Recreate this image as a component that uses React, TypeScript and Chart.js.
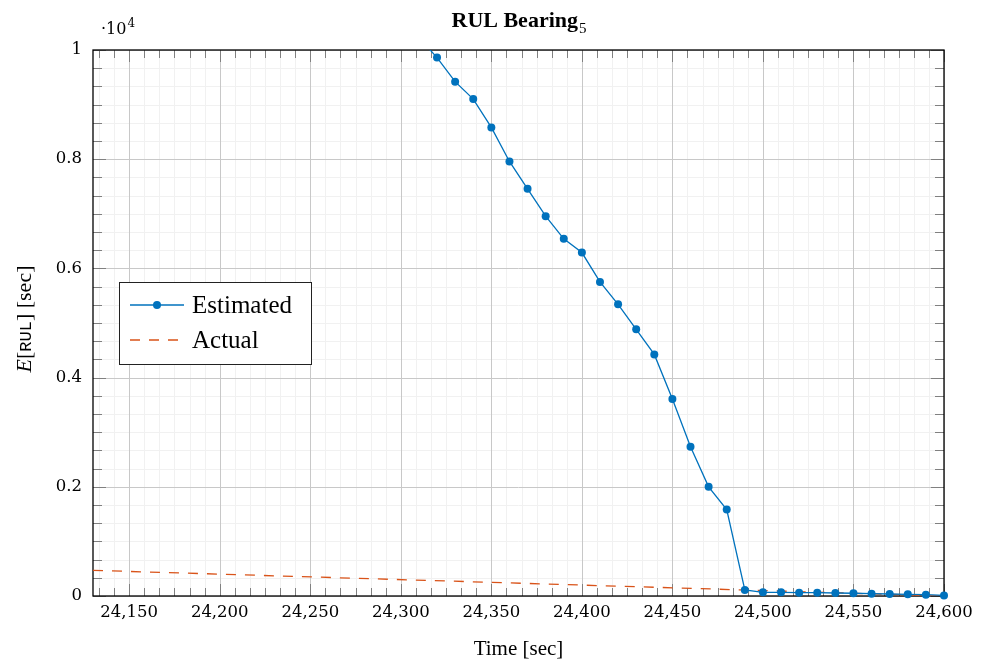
import React, { useEffect, useRef } from 'react';
import { Chart, registerables } from 'chart.js';

Chart.register(...registerables);

// ---- data ----
const estTime = [24310, 24320, 24330, 24340, 24350, 24360, 24370, 24380, 24390, 24400,
  24410, 24420, 24430, 24440, 24450, 24460, 24470, 24480, 24490, 24500,
  24510, 24520, 24530, 24540, 24550, 24560, 24570, 24580, 24590, 24600];
const estRUL = [10230, 9861, 9420, 9101, 8582, 7959, 7458, 6956, 6541, 6290,
  5753, 5342, 4884, 4425, 3607, 2732, 1999, 1583, 110, 68,
  68, 61, 61, 55, 50, 42, 37, 31, 24, 10];
const actTime = [24130, 24600];
const actRUL = [470, 0];

const xTicks = [24150, 24200, 24250, 24300, 24350, 24400, 24450, 24500, 24550, 24600];
const xTickLabels = ['24,150', '24,200', '24,250', '24,300', '24,350', '24,400', '24,450', '24,500', '24,550', '24,600'];
const yTicks = [0, 2000, 4000, 6000, 8000, 10000];
const yTickLabels = ['0', '0.2', '0.4', '0.6', '0.8', '1'];

const seriesLabels = ['Estimated', 'Actual'];
const BLUE = '#0072BD';
const ORANGE = '#D95319';
const MINOR_DIV = 6;

function minorValues(majors: number[], min: number, max: number): number[] {
  const step = (majors[1] - majors[0]) / MINOR_DIV;
  let v = majors[0];
  while (v - step >= min - 1e-6) v -= step;
  const out: number[] = [];
  for (; v <= max + 1e-6; v += step) out.push(v);
  return out;
}

const decor = {
  id: 'decor',
  beforeDatasetsDraw(chart: any) {
    const { ctx, chartArea: a, scales } = chart;
    const x = scales.x, y = scales.y;
    ctx.save();
    const xmin = minorValues(xTicks, x.min, x.max);
    const ymin = minorValues(yTicks, y.min, y.max);
    const isMajor = (v: number, majors: number[]) => majors.some((m) => Math.abs(m - v) < 1e-3);
    // minor grid
    ctx.lineWidth = 1;
    ctx.strokeStyle = '#f1f1f1';
    ctx.beginPath();
    xmin.forEach((v) => {
      if (isMajor(v, xTicks)) return;
      const p = Math.round(x.getPixelForValue(v)) + 0.5;
      ctx.moveTo(p, a.top); ctx.lineTo(p, a.bottom);
    });
    ymin.forEach((v) => {
      if (isMajor(v, yTicks)) return;
      const p = Math.round(y.getPixelForValue(v)) + 0.5;
      ctx.moveTo(a.left, p); ctx.lineTo(a.right, p);
    });
    ctx.stroke();
    // major grid
    ctx.strokeStyle = '#c8c8c8';
    ctx.beginPath();
    xTicks.forEach((v) => {
      const p = Math.round(x.getPixelForValue(v)) + 0.5;
      ctx.moveTo(p, a.top); ctx.lineTo(p, a.bottom);
    });
    yTicks.forEach((v) => {
      const p = Math.round(y.getPixelForValue(v)) + 0.5;
      ctx.moveTo(a.left, p); ctx.lineTo(a.right, p);
    });
    ctx.stroke();
    // tick marks (inside)
    ctx.strokeStyle = '#808080';
    ctx.beginPath();
    xmin.forEach((v) => {
      const len = isMajor(v, xTicks) ? 12 : 8;
      const p = Math.round(x.getPixelForValue(v)) + 0.5;
      ctx.moveTo(p, a.bottom); ctx.lineTo(p, a.bottom - len);
      ctx.moveTo(p, a.top); ctx.lineTo(p, a.top + len);
    });
    ymin.forEach((v) => {
      const len = isMajor(v, yTicks) ? 13 : 9;
      const p = Math.round(y.getPixelForValue(v)) + 0.5;
      ctx.moveTo(a.left, p); ctx.lineTo(a.left + len, p);
      ctx.moveTo(a.right, p); ctx.lineTo(a.right - len, p);
    });
    ctx.stroke();
    // axis box
    ctx.strokeStyle = '#000';
    ctx.lineWidth = 1.3;
    ctx.strokeRect(a.left, a.top, a.right - a.left, a.bottom - a.top);
    ctx.restore();
  },
  afterDatasetsDraw(chart: any) {
    const { ctx } = chart;
    ctx.save();
    // legend box
    const lx = 119, ly = 282, lw = 192, lh = 82;
    ctx.fillStyle = '#fff';
    ctx.fillRect(lx, ly, lw, lh);
    ctx.strokeStyle = '#222';
    ctx.lineWidth = 1;
    ctx.strokeRect(lx + 0.5, ly + 0.5, lw, lh);
    const rows = [305, 340];
    chart.data.datasets.forEach((ds: any, i: number) => {
      const ry = rows[i];
      ctx.strokeStyle = ds.borderColor;
      ctx.lineWidth = ds.borderWidth;
      ctx.setLineDash(ds.borderDash || []);
      ctx.beginPath();
      ctx.moveTo(130, ry); ctx.lineTo(184, ry);
      ctx.stroke();
      ctx.setLineDash([]);
      if (ds.pointRadius > 0) {
        ctx.fillStyle = ds.pointBackgroundColor;
        ctx.beginPath();
        ctx.arc(157, ry, ds.pointRadius, 0, Math.PI * 2);
        ctx.fill();
      }
      ctx.fillStyle = '#000';
      ctx.font = '25px "Liberation Serif"';
      ctx.textBaseline = 'alphabetic';
      ctx.textAlign = 'left';
      ctx.fillText(ds.label, 192, ry + 8);
    });
    ctx.restore();
  },
  afterDraw(chart: any) {
    const { ctx, chartArea: a } = chart;
    ctx.save();
    ctx.fillStyle = '#000';
    ctx.textBaseline = 'alphabetic';
    ctx.textAlign = 'left';
    // title
    const cx = (a.left + a.right) / 2;
    ctx.font = 'bold 22px "Liberation Serif"';
    const t1 = 'RUL Bearing';
    const w1 = ctx.measureText(t1).width;
    ctx.font = '15px "Liberation Serif"';
    const w2 = ctx.measureText('5').width;
    const sx = cx - (w1 + w2) / 2;
    ctx.font = 'bold 22px "Liberation Serif"';
    ctx.fillText(t1, sx, 27);
    ctx.font = '15px "Liberation Serif"';
    ctx.fillText('5', sx + w1 + 1, 33);
    // exponent
    ctx.font = '16px "DejaVu Serif"';
    ctx.fillText('·10', 101, 34);
    const we = ctx.measureText('·10').width;
    ctx.font = '12px "DejaVu Serif"';
    ctx.fillText('4', 101 + we + 1, 27);
    // x title
    ctx.font = '21px "Liberation Serif"';
    ctx.textAlign = 'center';
    ctx.fillText('Time [sec]', cx, 655);
    // y title
    const segs = [
      { t: 'E', f: 'italic 22px "Liberation Serif"' },
      { t: '[', f: '22px "Liberation Serif"' },
      { t: 'RUL', f: '17px "Liberation Mono"' },
      { t: ']', f: '22px "Liberation Serif"' },
      { t: ' [sec]', f: '22px "Liberation Serif"' },
    ];
    ctx.textAlign = 'left';
    let total = 0;
    const widths = segs.map((s) => { ctx.font = s.f; const w = ctx.measureText(s.t).width; total += w; return w; });
    ctx.translate(31, 319);
    ctx.rotate(-Math.PI / 2);
    let px = -total / 2;
    segs.forEach((s, i) => { ctx.font = s.f; ctx.fillText(s.t, px, 0); px += widths[i]; });
    ctx.restore();
  },
};

export default function App() {
  const ref = useRef<HTMLCanvasElement>(null);
  useEffect(() => {
    if (!ref.current) return;
    const chart = new Chart(ref.current, {
      type: 'line',
      data: {
        datasets: [
          {
            label: seriesLabels[0],
            data: estTime.map((t, i) => ({ x: t, y: estRUL[i] })),
            borderColor: BLUE,
            backgroundColor: BLUE,
            pointBackgroundColor: BLUE,
            pointBorderColor: BLUE,
            pointRadius: 4,
            pointBorderWidth: 0,
            borderWidth: 1.3,
            tension: 0,
            clip: { left: false, top: 0, right: false, bottom: false } as any,
          },
          {
            label: seriesLabels[1],
            data: actTime.map((t, i) => ({ x: t, y: actRUL[i] })),
            borderColor: ORANGE,
            backgroundColor: ORANGE,
            borderDash: [10, 9],
            borderWidth: 1.3,
            pointRadius: 0,
            tension: 0,
          },
        ],
      },
      options: {
        animation: false,
        responsive: false,
        devicePixelRatio: 1,
        events: [],
        layout: { padding: { left: 0, right: 45, top: 50, bottom: 0 } },
        plugins: { legend: { display: false }, title: { display: false }, tooltip: { enabled: false } },
        scales: {
          x: {
            type: 'linear',
            min: 24130,
            max: 24600,
            grid: { display: false, drawTicks: false },
            border: { display: false },
            afterBuildTicks: (s: any) => { s.ticks = xTicks.map((v) => ({ value: v })); },
            afterFit: (s: any) => { s.height = 66; },
            ticks: {
              autoSkip: false,
              maxRotation: 0,
              padding: 7,
              color: '#000',
              font: { family: 'DejaVu Serif', size: 16.5 },
              callback: (v: any) => { const i = xTicks.indexOf(Number(v)); return i >= 0 ? xTickLabels[i] : ''; },
            },
          },
          y: {
            type: 'linear',
            min: 0,
            max: 10000,
            grid: { display: false, drawTicks: false },
            border: { display: false },
            afterBuildTicks: (s: any) => { s.ticks = yTicks.map((v) => ({ value: v })); },
            afterFit: (s: any) => { s.width = 93; },
            ticks: {
              autoSkip: false,
              padding: 11,
              color: '#000',
              font: { family: 'DejaVu Serif', size: 16.5 },
              callback: (v: any) => { const i = yTicks.indexOf(Number(v)); return i >= 0 ? yTickLabels[i] : ''; },
            },
          },
        },
      },
      plugins: [decor],
    } as any);
    return () => chart.destroy();
  }, []);
  return (
    <div style={{ position: 'fixed', left: 0, top: 0, width: 989, height: 662, background: '#fff' }}>
      <canvas ref={ref} width={989} height={662} style={{ display: 'block', width: 989, height: 662 }} />
    </div>
  );
}
